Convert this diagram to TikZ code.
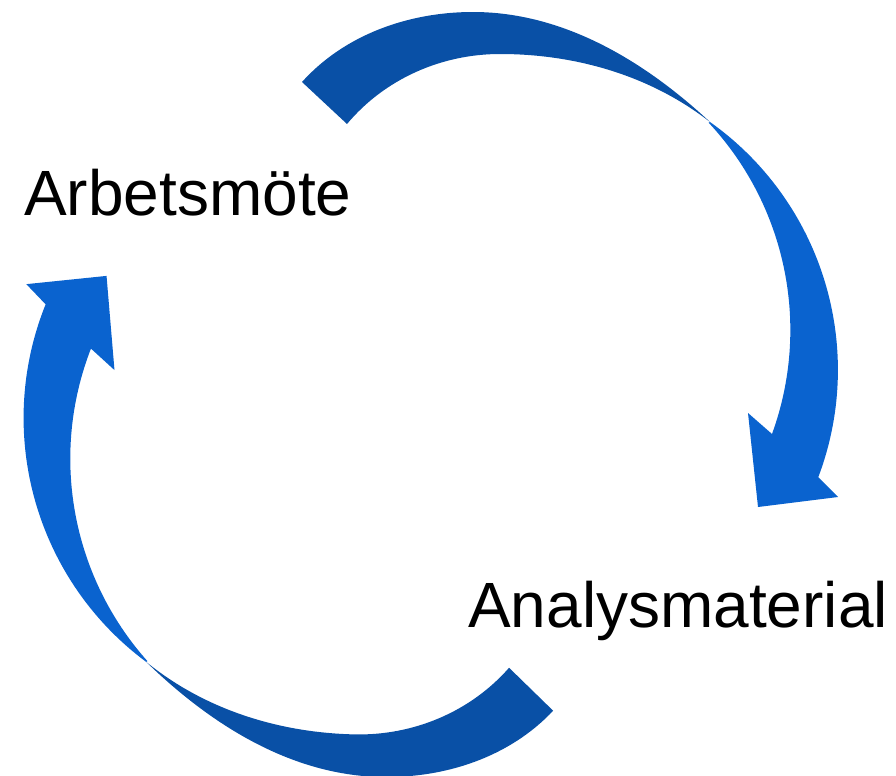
\documentclass[tikz,border=0pt]{standalone}
\usepackage{fontspec}
\setmainfont{Liberation Sans}
\definecolor{arrowdark}{RGB}{9,80,166}
\definecolor{arrowlight}{RGB}{10,99,207}
\tikzset{
    stage/.style={inner sep=0pt, anchor=base west, font=\fontsize{45.5}{54}\selectfont},
    back part/.style={fill=arrowdark},
    front part/.style={fill=arrowlight}
}
% one curved arrow, in pixel units, tail upper left, head lower right
\newcommand{\cycleArrow}{%
    \fill[back part] (302,82) .. controls (344.8,34.4) and (409,12) .. (473,12)
        .. controls (563,12) and (644,60.6) .. (710,122)
        .. controls (650.4,75.5) and (575.6,54) .. (500,54)
        .. controls (441.3,54) and (384.7,79) .. (347,124) -- cycle;
    \fill[front part] (710,122) arc[start angle=-54.6, end angle=20.7, radius=304]
        -- (838,497) -- (758,507) -- (748,413)
        -- (772,434) arc[start angle=20, end angle=-43, radius=304] -- cycle;
}
\begin{document}
\begin{tikzpicture}[x=0.025cm,y=-0.025cm]
	\useasboundingbox (0,0) rectangle (896,776);
	\cycleArrow
	\begin{scope}[rotate around={178.75:(431,395)}]
		\cycleArrow
	\end{scope}
	\node[stage] (meeting) at (24,215) {Arbetsmöte};
	\node[stage] (material) at (468,627) {Analysmaterial};
\end{tikzpicture}
\end{document}
